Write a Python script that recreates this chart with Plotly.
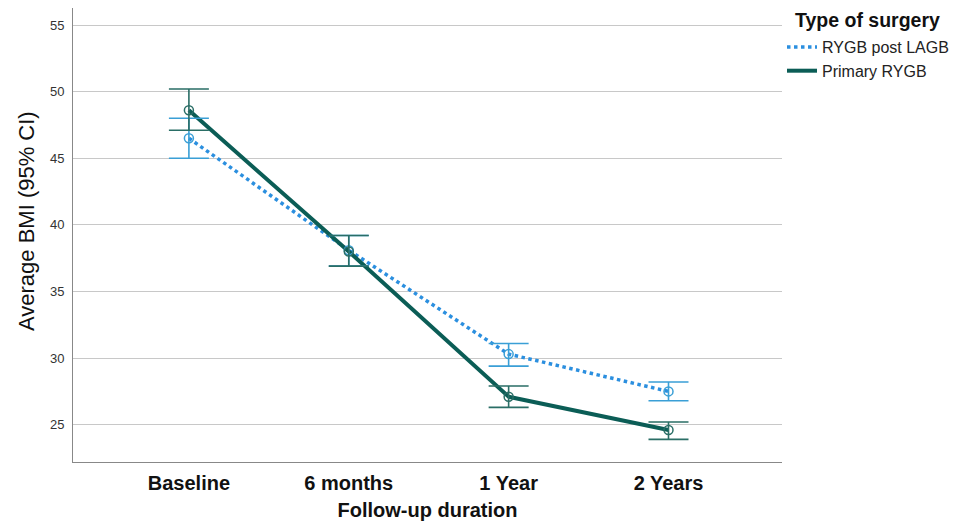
import plotly.graph_objects as go

categories = ["Baseline", "6 months", "1 Year", "2 Years"]

post_lagb_mean = [46.5, 38.1, 30.3, 27.5]
post_lagb_upper = [48.0, 39.2, 31.1, 28.2]
post_lagb_lower = [45.0, 36.9, 29.4, 26.8]

primary_mean = [48.6, 38.0, 27.1, 24.6]
primary_upper = [50.2, 39.2, 27.9, 25.2]
primary_lower = [47.1, 36.9, 26.3, 23.9]

y_ticks = [25, 30, 35, 40, 45, 50, 55]

xi = list(range(len(categories)))

series = [
    ("RYGB post LAGB", post_lagb_mean, post_lagb_upper, post_lagb_lower,
     dict(color="#2b8fdf", width=3.5, dash="dot"), "#3a9fd6"),
    ("Primary RYGB", primary_mean, primary_upper, primary_lower,
     dict(color="#0b5d56", width=4), "#2a6e66"),
]

fig = go.Figure()

for name, mean, upper, lower, line, ecol in series:
    fig.add_trace(go.Scatter(
        x=xi, y=mean, name=name, mode="lines", line=line, showlegend=True,
    ))
for name, mean, upper, lower, line, ecol in series:
    fig.add_trace(go.Scatter(
        x=xi, y=mean, name=name, mode="markers", showlegend=False,
        marker=dict(symbol="circle-open", size=9, color=ecol, line=dict(width=1.5)),
        error_y=dict(type="data", symmetric=False,
                     array=[u - m for u, m in zip(upper, mean)],
                     arrayminus=[m - l for m, l in zip(mean, lower)],
                     color=ecol, thickness=1.6, width=20),
    ))

# plot area spans 709 x 454 px
fig.add_annotation(
    text="<b>Type of surgery</b>", xref="paper", yref="paper",
    x=(785 - 65) / 709, y=1 - 12 / 454, xanchor="left", yanchor="middle",
    showarrow=False, font=dict(size=19.5, color="#111"),
)
fig.add_annotation(
    text="Average BMI (95% CI)", xref="paper", yref="paper",
    x=(18 - 65) / 709, y=1 - 213 / 454, xanchor="center", yanchor="middle",
    textangle=-90, showarrow=False, font=dict(size=22, color="#111"),
)

fig.update_layout(
    width=956, height=518,
    margin=dict(l=65, r=182, t=0, b=64, autoexpand=False),
    paper_bgcolor="white", plot_bgcolor="white",
    font=dict(family="Liberation Sans, Arial, sans-serif", color="#222"),
    showlegend=True,
    legend=dict(
        x=1.0, xanchor="left", y=1 - 22 / 454, yanchor="top",
        font=dict(size=16, color="#222"),
        itemwidth=30, tracegroupgap=0, bgcolor="rgba(0,0,0,0)",
    ),
    xaxis=dict(
        tickmode="array", tickvals=xi, ticktext=["<b>%s</b>" % c for c in categories],
        range=[-0.725, 3.71], showgrid=False, zeroline=False, automargin=False,
        showline=True, linecolor="#888", linewidth=1,
        tickfont=dict(size=20, color="#111"), ticks="", ticklabelstandoff=3,
        title=dict(text="<b>Follow-up duration</b>", font=dict(size=20, color="#111"), standoff=9),
    ),
    yaxis=dict(
        tickmode="array", tickvals=y_ticks, range=[22.2, 56.28],
        showgrid=True, gridcolor="#c8c8c8", gridwidth=1, zeroline=False, automargin=False,
        showline=True, linecolor="#888", linewidth=1,
        tickfont=dict(size=13, color="#333"), ticks="", ticklabelstandoff=5,
    ),
)

fig.write_html("out.html")
